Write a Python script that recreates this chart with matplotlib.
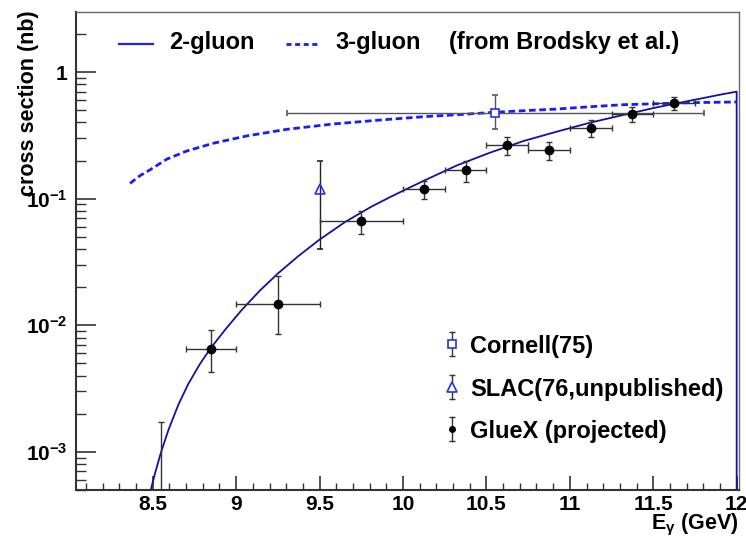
import matplotlib
matplotlib.use('Agg')
import matplotlib.pyplot as plt
from matplotlib.ticker import FixedLocator, FixedFormatter, LogLocator, MultipleLocator, NullFormatter

#2-gluon exchange curve (nb), floor value marks where it runs along the frame
gluon2_E = [8.04, 8.488, 8.514, 8.548, 8.594, 8.653, 8.713, 8.783, 8.849, 8.933, 9.033, 9.143,
            9.253, 9.373, 9.497, 9.652, 9.812, 9.922, 10.012, 10.122, 10.322, 10.521, 10.721,
            10.921, 11.121, 11.320, 11.520, 11.720, 11.920, 12.0, 12.0]
gluon2_xs = [5.0e-4, 5.0e-4, 6.79e-4, 9.77e-4, 1.49e-3, 2.35e-3, 3.44e-3, 4.95e-3, 6.64e-3,
             9.19e-3, 0.0132, 0.01884, 0.02585, 0.0352, 0.0472, 0.0653, 0.0867, 0.1028, 0.1175,
             0.138, 0.1828, 0.2307, 0.285, 0.338, 0.398, 0.458, 0.526, 0.594, 0.670, 0.700, 5.0e-4]

#3-gluon exchange curve (nb)
gluon3_E = [8.364, 8.424, 8.484, 8.584, 8.704, 8.864, 9.064, 9.304, 9.584, 9.864, 10.122,
            10.322, 10.551, 10.721, 10.921, 11.121, 11.320, 11.520, 11.720, 12.0]
gluon3_xs = [0.132, 0.152, 0.169, 0.205, 0.238, 0.274, 0.313, 0.353, 0.389, 0.418, 0.444,
             0.460, 0.481, 0.495, 0.510, 0.532, 0.552, 0.562, 0.573, 0.580]

#GlueX projected points
gluex_E = [8.55, 8.85, 9.25, 9.75, 10.125, 10.375, 10.625, 10.875, 11.125, 11.375, 11.625]
gluex_dE = [0.15, 0.15, 0.25, 0.25, 0.125, 0.125, 0.125, 0.125, 0.125, 0.125, 0.125]
gluex_xs = [2.0e-4, 0.0065, 0.0146, 0.0667, 0.119, 0.168, 0.265, 0.244, 0.361, 0.469, 0.567]
gluex_lo = [1.0e-4, 0.0022, 0.0061, 0.0143, 0.020, 0.033, 0.044, 0.042, 0.052, 0.066, 0.066]
gluex_hi = [0.00152, 0.0027, 0.0101, 0.0137, 0.019, 0.030, 0.040, 0.038, 0.055, 0.057, 0.068]

#Cornell(75)
cornell_E = [10.553]
cornell_dE = [1.25]
cornell_xs = [0.477]
cornell_lo = [0.12]
cornell_hi = [0.186]

#SLAC(76)
slac_E = [9.5]
slac_xs = [0.119]
slac_lo = [0.079]
slac_hi = [0.081]

xtick_vals = [8.5, 9, 9.5, 10, 10.5, 11, 11.5, 12]
xtick_labels = ['8.5', '9', '9.5', '10', '10.5', '11', '11.5', '12']
ytick_vals = [1e-3, 1e-2, 1e-1, 1]
ytick_labels = [r'$10^{-3}$', r'$10^{-2}$', r'$10^{-1}$', '1']

plt.rcParams['font.family'] = ['Liberation Sans', 'DejaVu Sans']
plt.rcParams['font.weight'] = 'bold'
plt.rcParams['mathtext.fontset'] = 'custom'
plt.rcParams['mathtext.rm'] = 'Liberation Sans:bold'
plt.rcParams['mathtext.it'] = 'Liberation Sans:bold'
plt.rcParams['mathtext.bf'] = 'Liberation Sans:bold'
plt.rcParams['mathtext.default'] = 'rm'

frame_col = '#333333'
bar_col = '#333333'

fig = plt.figure(figsize=(7.46, 5.37), dpi=100)
ax = fig.add_axes([76/746, 1 - 490/537, 663/746, 478/537])

ax.set_yscale('log')
ax.set_xlim(8.04, 12.014)
ax.set_ylim(5.0e-4, 2.98)

#theory curves
ax.plot(gluon2_E, gluon2_xs, color='#1212a0', lw=1.3, solid_joinstyle='round')
ax.plot(gluon3_E, gluon3_xs, color='#1a1aff', lw=2.0, dashes=(2.4, 1.3))

#data
ax.errorbar(cornell_E, cornell_xs, xerr=cornell_dE, yerr=[cornell_lo, cornell_hi], fmt='s',
            ms=5.5, mfc='white', mec='#2233ee', mew=1.2, ecolor='#555555', elinewidth=1,
            capsize=2, capthick=1, zorder=4)
ax.errorbar(slac_E, slac_xs, yerr=[slac_lo, slac_hi], fmt='^', ms=7.5, mfc='none',
            mec='#2233ee', mew=1.2, ecolor='#222222', elinewidth=1, capsize=2, capthick=1, zorder=4)
ax.errorbar(gluex_E, gluex_xs, xerr=gluex_dE, yerr=[gluex_lo, gluex_hi], fmt='o', ms=6,
            color='black', ecolor=bar_col, elinewidth=1, capsize=2, capthick=1, zorder=5)

#axis ticks, ROOT style
ax.xaxis.set_major_locator(FixedLocator(xtick_vals))
ax.xaxis.set_major_formatter(FixedFormatter(xtick_labels))
ax.xaxis.set_minor_locator(MultipleLocator(0.1))
ax.yaxis.set_major_locator(FixedLocator(ytick_vals))
ax.yaxis.set_major_formatter(FixedFormatter(ytick_labels))
ax.yaxis.set_minor_locator(LogLocator(base=10, subs=range(2, 10), numticks=20))
ax.yaxis.set_minor_formatter(NullFormatter())

ax.tick_params(axis='both', which='both', direction='in', colors=frame_col, labelcolor='black',
               labelsize=15, top=False, right=False)
ax.tick_params(axis='x', which='major', length=10, width=1.2, pad=3.5)
ax.tick_params(axis='x', which='minor', length=5, width=1)
ax.tick_params(axis='y', which='major', length=14.5, width=1.2, pad=6)
ax.tick_params(axis='y', which='minor', length=7.2, width=1)
for lab in ax.get_xticklabels() + ax.get_yticklabels():
    lab.set_fontweight('bold')

for side in ['left', 'bottom']:
    ax.spines[side].set_color(frame_col)
    ax.spines[side].set_linewidth(1.5)
for side in ['top', 'right']:
    ax.spines[side].set_color('#666666')
    ax.spines[side].set_linewidth(1.0)

ax.set_ylabel('cross section (nb)', fontsize=15.5, fontweight='bold', loc='top')
ax.yaxis.set_label_coords(-0.056, 1.004)
ax.set_xlabel(r'E$_{\gamma}$ (GeV)', fontsize=15.5, fontweight='bold', loc='right')
ax.xaxis.set_label_coords(0.999, -0.046)

#top legend
ax.plot([0.065, 0.116], [0.934, 0.934], transform=ax.transAxes, color='#2020ff', lw=1.6)
ax.text(0.1403, 0.922, '2-gluon', transform=ax.transAxes, fontsize=17, fontweight='bold',
        va='baseline', ha='left')
ax.plot([0.3163, 0.363], [0.934, 0.934], transform=ax.transAxes, color='#1a1aff', lw=2.0,
        dashes=(1.8, 1.3))
ax.text(0.3906, 0.922, '3-gluon', transform=ax.transAxes, fontsize=17, fontweight='bold',
        va='baseline', ha='left')
ax.text(0.5626, 0.922, '(from Brodsky et al.)', transform=ax.transAxes, fontsize=17,
        fontweight='bold', va='baseline', ha='left')

#data legend
leg_x = 0.5676
leg_rows = [(0.3054, 'Cornell(75)', 's'), (0.2149, 'SLAC(76,unpublished)', '^'),
            (0.127, 'GlueX (projected)', 'o')]
for yy, name, mk in leg_rows:
    d = 0.025
    ax.plot([leg_x, leg_x], [yy - d, yy + d], transform=ax.transAxes, color=bar_col, lw=1)
    ax.plot([leg_x, leg_x], [yy - d, yy + d], transform=ax.transAxes, ls='none', marker='_',
            ms=4, mew=1, color=bar_col)
    if mk == 'o':
        ax.plot([leg_x], [yy], transform=ax.transAxes, marker='o', ms=4, color='black')
    else:
        ax.plot([leg_x], [yy], transform=ax.transAxes, marker=mk, ms=6.5 if mk == '^' else 5.5,
                mfc='white', mec='#2233ee', mew=1.2)
    ax.text(0.594, yy - 0.0185, name, transform=ax.transAxes, fontsize=17, fontweight='bold',
            va='baseline', ha='left')

fig.savefig('out.png', dpi=100)
